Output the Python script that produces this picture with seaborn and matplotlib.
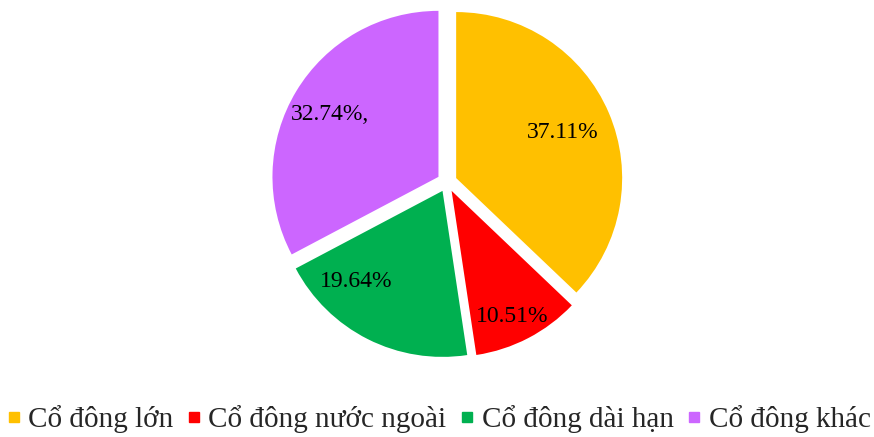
import numpy as np
import seaborn as sns
import matplotlib.pyplot as plt
from matplotlib.lines import Line2D

# data
categories = ['Cổ đông lớn', 'Cổ đông nước ngoài', 'Cổ đông dài hạn', 'Cổ đông khác']
shares = [37.11, 10.51, 19.64, 32.74]
pct_labels = ['37.11%', '10.51%', '19.64%', '32.74%,']

colors = sns.color_palette(['#FFC000', '#FF0000', '#00B050', '#CC66FF'])
# label placement (fraction of radius, angle nudge in degrees)
label_dist = [0.695, 0.84, 0.756, 0.755]
label_turn = [0, -1.7, -17, 1]

sns.set_theme(style='white')
plt.rcParams['font.family'] = ['Liberation Serif', 'DejaVu Serif']

fig = plt.figure(figsize=(8.74, 4.37), dpi=100)
# axes placed so that the pie radius is ~166 px, centre at (447, 182)
ax = fig.add_axes([(447 - 180) / 874, (437 - 182 - 180) / 437, 360 / 874, 360 / 437])

wedges, _ = ax.pie(shares, colors=colors, startangle=90, counterclock=False,
                   explode=[0.06] * 4, radius=1.0,
                   wedgeprops=dict(linewidth=0))
ax.set_xlim(-180 / 166, 180 / 166)
ax.set_ylim(-180 / 166, 180 / 166)
ax.set_aspect('equal')
ax.axis('off')

# percent labels around each wedge's middle angle
for w, txt, d, t in zip(wedges, pct_labels, label_dist, label_turn):
    ang = np.deg2rad((w.theta1 + w.theta2) / 2 + t)
    cx, cy = w.center
    ax.text(cx + d * np.cos(ang), cy + d * np.sin(ang), txt,
            ha='center', va='center', fontsize=17, color='black')

handles = [Line2D([], [], marker='s', linestyle='', markersize=6.5,
                  markerfacecolor=c, markeredgecolor=c) for c in colors]
fig.legend(handles, categories, loc='center', ncol=4, frameon=False,
           bbox_to_anchor=(0.5, (437 - 419) / 437), fontsize=21,
           handletextpad=0.15, columnspacing=0.35, handlelength=0.7)

fig.savefig('out.png', dpi=100)
